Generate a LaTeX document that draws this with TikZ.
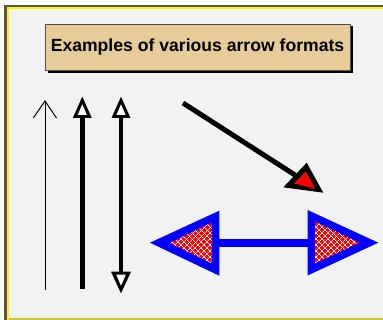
\documentclass[tikz,border=0pt]{standalone}
\usepackage{fontspec}
\setmainfont{Liberation Sans}
\usetikzlibrary{shadows,patterns.meta}
\definecolor{bgc}{HTML}{F2F2F2}
\definecolor{framec}{RGB}{96,80,80}
\definecolor{tanc}{RGB}{230,204,153}
\definecolor{olivec}{RGB}{200,200,60}
\definecolor{boxline}{RGB}{80,80,80}
\tikzset{
  titlebox/.style={fill=tanc, draw=boxline, line width=0.8pt,
    minimum width=305pt, minimum height=46.7pt, inner sep=0pt,
    font=\fontsize{17.6}{20}\selectfont\bfseries,
    drop shadow={shadow xshift=2.5pt, shadow yshift=-2.5pt, opacity=1, fill=black}},
  thinline/.style={line width=1pt, black},
  thickline/.style={line width=4.7pt, black},
  diagline/.style={line width=5pt, black},
  blueline/.style={line width=8pt, blue},
  headout/.style={fill=black},
  headin/.style={fill=white},
  weave/.style={pattern={Lines[angle=45,distance=4pt,line width=0.7pt]}, pattern color=white},
  weaveb/.style={pattern={Lines[angle=-45,distance=4pt,line width=0.7pt]}, pattern color=white},
}
\begin{document}
\begin{tikzpicture}[x=1pt,y=-1pt,line join=miter]
\useasboundingbox (0,0) rectangle (383,320);
% frame
\fill[white] (0,0) rectangle (383,320);
\fill[framec] (4,5) rectangle (383,320);
\fill[yellow] (7,7) rectangle (383,320);
\fill[olivec] (9,318) rectangle (383,320);
\fill[bgc] (9,9) rectangle (383,318);
% title
\node[titlebox] (title) at (197.5,47.3) {Examples of various arrow formats};
% arrow 1: thin line, open V head
\coordinate (a1s) at (45,290);
\coordinate (a1e) at (45,101);
\coordinate (a1l) at (33.3,118);
\coordinate (a1r) at (56.5,118);
\draw[thinline] (a1s) -- (a1e);
\draw[thinline] (a1l) -- (a1e) -- (a1r);
% arrow 2: thick line, open triangle head
\coordinate (a2s) at (82.3,289);
\coordinate (a2e) at (82.3,118);
\draw[thickline] (a2s) -- (a2e);
\fill[headout] (82.3,96.7) -- (72.8,118) -- (91.8,118) -- cycle;
\fill[headin] (82.3,104.3) -- (77.7,115) -- (86.9,115) -- cycle;
% arrow 3: double-headed
\coordinate (a3s) at (121,271.7);
\coordinate (a3e) at (121,118);
\draw[thickline] (a3s) -- (a3e);
\fill[headout] (121,96.7) -- (111.5,118) -- (130.5,118) -- cycle;
\fill[headin] (121,104.3) -- (116.4,115) -- (125.6,115) -- cycle;
\fill[headout] (121,293.3) -- (111,271.7) -- (131,271.7) -- cycle;
\fill[headin] (121,285.7) -- (116.2,274.7) -- (125.8,274.7) -- cycle;
% arrow 4: diagonal with red head
\coordinate (a4s) at (183,103);
\coordinate (a4e) at (295,175);
\draw[diagline] (a4s) -- (a4e);
\fill[headout] (283.3,187.3) -- (306.7,162.7) -- (323.3,192.7) -- cycle;
\fill[red] (294,183.5) -- (306,171.5) -- (315,188.7) -- cycle;
% arrow 5: blue double arrow with patterned heads
\coordinate (a5s) at (219.3,242.7);
\coordinate (a5e) at (307.7,242.7);
\draw[blueline] (a5s) -- (a5e);
\fill[blue] (150,242.7) -- (219.3,210.7) -- (219.3,275.7) -- cycle;
\fill[red] (170,243) -- (211.7,222.7) -- (211.7,263.3) -- cycle;
\fill[weave] (170,243) -- (211.7,222.7) -- (211.7,263.3) -- cycle;
\fill[weaveb] (170,243) -- (211.7,222.7) -- (211.7,263.3) -- cycle;
\fill[blue] (307.5,210) -- (307.5,275.5) -- (378.3,242.7) -- cycle;
\fill[red] (315,221.7) -- (315,263.3) -- (359.3,242.7) -- cycle;
\fill[weave] (315,221.7) -- (315,263.3) -- (359.3,242.7) -- cycle;
\fill[weaveb] (315,221.7) -- (315,263.3) -- (359.3,242.7) -- cycle;
\end{tikzpicture}
\end{document}
